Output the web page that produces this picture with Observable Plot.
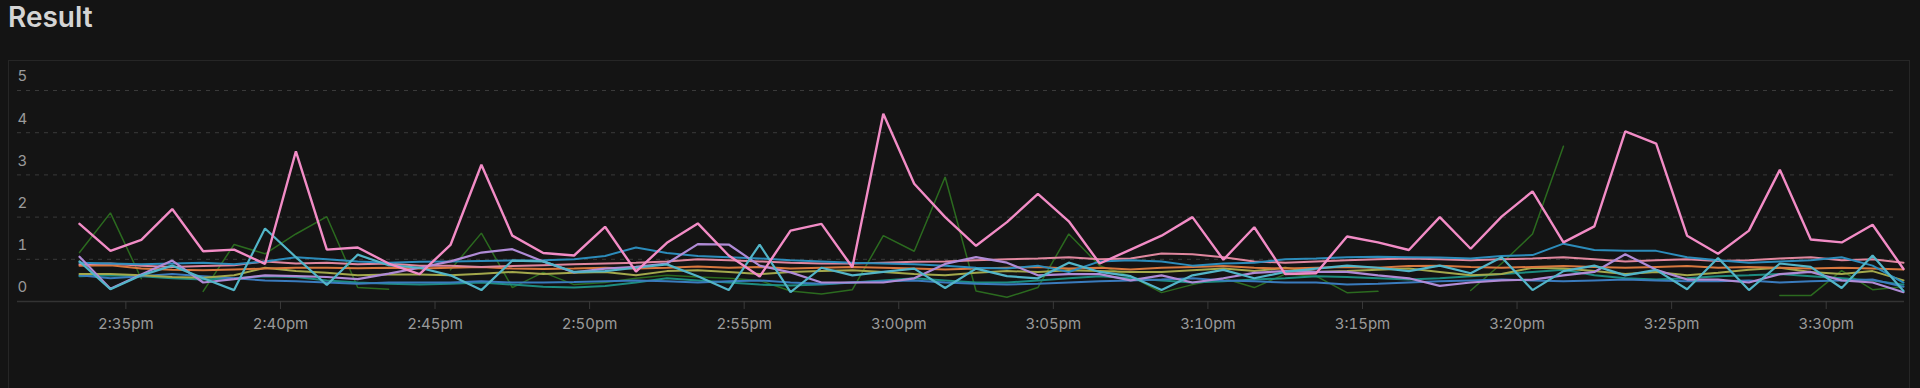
<!DOCTYPE html>
<html>
<head>
<meta charset="utf-8">
<script src="https://cdn.jsdelivr.net/npm/d3@7"></script>
<script src="https://cdn.jsdelivr.net/npm/@observablehq/plot@0.6"></script>
<style>
  html, body { margin: 0; padding: 0; background: #141414; width: 1920px; height: 388px; overflow: hidden; }
  #title { position: absolute; left: 8px; top: 0px; font-family: Inter, "Noto Sans", sans-serif; font-weight: 600; font-size: 28px; line-height: 34px; color: #d4d4d4; }
  #panel { position: absolute; left: 8px; top: 60px; width: 1900px; height: 340px; border: 1px solid #262626; background: #141414; }
  #chart { position: absolute; left: 0; top: 0; }
</style>
</head>
<body>
<div id="title">Result</div>
<div id="panel"><div id="chart"></div></div>
<script>
// ---- data (one value per minute, starting 2:33:30pm) ----
const startTime = Date.UTC(2024, 0, 1, 14, 33, 30);
const stepMinutes = 1;

const pink = [1.84,1.20,1.46,2.19,1.19,1.23,0.89,3.56,1.23,1.28,
  0.90,0.65,1.34,3.24,1.56,1.15,1.09,1.77,0.71,1.39,
  1.85,1.09,0.59,1.68,1.84,0.81,4.45,2.79,2.00,1.32,
  1.88,2.55,1.90,0.90,1.23,1.56,2.00,0.99,1.76,0.65,
  0.67,1.54,1.40,1.22,2.00,1.25,2.01,2.61,1.40,1.78,
  4.03,3.74,1.56,1.13,1.68,3.12,1.47,1.40,1.82,0.77];

const green = [1.16,2.10,0.54,null,0.24,1.35,1.13,1.60,2.01,0.33,
  0.29,null,0.75,1.62,0.33,0.69,0.40,0.45,0.55,0.62,
  0.58,0.55,0.50,0.25,0.18,0.28,1.56,1.19,2.95,0.25,
  0.10,0.33,1.60,0.85,0.60,0.21,0.40,0.55,0.33,0.65,
  0.60,0.21,0.24,null,null,0.26,0.90,1.60,3.68,null,
  null,null,null,null,null,0.14,0.14,0.73,0.28,0.35];

const cyan = [0.95,0.29,0.62,0.85,0.55,0.27,1.73,1.05,0.39,1.11,
  0.86,0.80,0.62,0.27,0.97,0.95,0.70,0.72,0.80,0.88,
  0.60,0.27,1.35,0.22,0.80,0.62,0.70,0.78,0.32,0.78,
  0.60,0.55,0.92,0.70,0.60,0.27,0.62,0.75,0.55,0.70,
  0.78,0.85,0.80,0.72,0.85,0.67,1.05,0.27,0.72,0.85,
  0.62,0.75,0.29,1.03,0.27,0.90,0.82,0.32,1.09,0.25];

const lavender = [1.06,0.30,0.64,0.97,0.45,0.53,0.62,0.60,0.58,0.53,
  0.66,0.80,0.95,1.16,1.24,0.95,0.69,0.78,0.82,0.90,
  1.36,1.35,0.85,0.69,0.45,0.45,0.45,0.55,0.89,1.05,
  0.92,0.62,0.65,0.65,0.50,0.62,0.45,0.55,0.68,0.72,
  0.70,0.70,0.62,0.55,0.37,0.45,0.50,0.52,0.62,0.70,
  1.12,0.75,0.52,0.52,0.45,0.65,0.70,0.50,0.45,0.22];

const blue = [0.92,0.90,0.88,0.90,0.92,0.88,0.95,1.05,1.00,0.95,
  0.92,0.94,0.95,0.96,0.97,0.98,1.00,1.08,1.28,1.15,
  1.08,1.05,1.02,0.98,0.95,0.92,0.90,0.88,0.85,0.80,
  0.78,0.85,0.70,0.95,0.98,0.95,0.85,0.90,0.92,1.00,
  1.02,1.05,1.06,1.05,1.04,1.02,1.08,1.10,1.37,1.22,
  1.20,1.20,1.05,0.98,0.92,0.95,0.98,1.05,0.85,0.45];

const orange = [0.85,0.86,0.78,0.75,0.74,0.76,0.78,0.80,0.80,0.79,
  0.80,0.78,0.80,0.82,0.78,0.77,0.78,0.80,0.78,0.80,
  0.83,0.80,0.82,0.78,0.80,0.82,0.80,0.78,0.76,0.78,
  0.80,0.82,0.78,0.80,0.76,0.80,0.82,0.84,0.80,0.78,
  0.80,0.82,0.80,0.84,0.85,0.82,0.80,0.82,0.84,0.82,
  0.80,0.82,0.84,0.80,0.82,0.80,0.78,0.80,0.78,0.76];

const olive = [0.65,0.65,0.62,0.58,0.56,0.62,0.80,0.72,0.68,0.62,
  0.64,0.64,0.62,0.66,0.70,0.65,0.68,0.70,0.62,0.72,
  0.74,0.70,0.65,0.70,0.72,0.74,0.70,0.65,0.62,0.68,
  0.72,0.70,0.74,0.72,0.70,0.70,0.74,0.78,0.72,0.80,
  0.70,0.72,0.75,0.78,0.70,0.62,0.65,0.80,0.78,0.72,
  0.65,0.70,0.62,0.68,0.75,0.80,0.70,0.65,0.72,0.50];

const salmon = [0.88,0.90,0.85,0.82,0.84,0.86,0.95,0.90,0.92,0.88,
  0.90,0.85,0.85,0.82,0.84,0.86,0.88,0.90,0.92,0.95,
  1.00,0.98,0.95,0.92,0.90,0.90,0.92,0.94,0.95,0.98,
  1.00,1.02,1.05,1.00,1.02,1.14,1.12,1.05,0.95,0.92,
  0.95,0.98,1.00,1.02,1.00,0.98,1.00,1.02,1.05,1.00,
  0.95,0.98,1.00,0.96,0.98,1.02,1.05,0.98,1.00,0.92];

const lowBlue = [0.62,0.55,0.60,0.65,0.60,0.55,0.50,0.48,0.45,0.42,
  0.45,0.45,0.45,0.48,0.45,0.45,0.46,0.48,0.50,0.48,
  0.45,0.48,0.50,0.45,0.42,0.45,0.48,0.50,0.45,0.42,
  0.40,0.42,0.45,0.48,0.50,0.52,0.55,0.50,0.48,0.45,
  0.45,0.40,0.42,0.45,0.48,0.50,0.52,0.50,0.48,0.50,
  0.52,0.50,0.48,0.48,0.50,0.45,0.48,0.50,0.52,0.35];

const teal = [0.60,0.62,0.60,0.55,0.52,0.55,0.60,0.58,0.50,0.45,
  0.42,0.40,0.42,0.45,0.40,0.35,0.33,0.37,0.45,0.55,
  0.50,0.45,0.40,0.38,0.40,0.45,0.50,0.55,0.50,0.45,
  0.45,0.50,0.55,0.60,0.55,0.50,0.45,0.48,0.52,0.55,
  0.60,0.58,0.55,0.52,0.55,0.60,0.65,0.70,0.75,0.62,
  0.55,0.52,0.55,0.60,0.62,0.65,0.60,0.55,0.50,0.40];

const seriesNames  = ["green","teal","lowBlue","olive","orange","salmon","blue","lavender","cyan","pink"];
const seriesValues = [green, teal, lowBlue, olive, orange, salmon, blue, lavender, cyan, pink];
const seriesColors = ["#2b6a1f","#1d8c80","#3a7bbd","#a3a84c","#d8783f","#e0879f","#2c8cbb","#b08bd6","#52b5c8","#f28cc6"];
const seriesWidths = [1.5, 2, 2, 2, 2, 2, 2, 2.2, 2.2, 2.4];

const yTicks = [0, 1, 2, 3, 4, 5];
const gridTicks = [1, 2, 3, 4, 5];

// ---- build ----
const times = pink.map((_, i) => new Date(startTime + i * stepMinutes * 60000));
const fmt = d3.utcFormat("%-I:%M%p");

const lineMarks = seriesValues.map((vals, k) =>
  Plot.lineY(vals.map((v, i) => ({t: times[i], v})), {
    x: "t", y: "v",
    stroke: seriesColors[k],
    strokeWidth: seriesWidths[k],
    strokeLinejoin: "miter",
    curve: "linear"
  })
);

const chart = Plot.plot({
  width: 1900,
  height: 320,
  marginLeft: 70,
  marginRight: 6,
  marginTop: 29,
  marginBottom: 80,
  style: { background: "transparent", fontFamily: "Inter, 'Noto Sans', sans-serif", color: "#9a9a9a" },
  x: { type: "utc", domain: [times[0], times[times.length - 1]] },
  y: { domain: [0, 5] },
  marks: [
    Plot.ruleY(gridTicks, { stroke: "#3a3a3a", strokeDasharray: "4,5", strokeWidth: 1, insetLeft: -62, insetRight: 6 }),
    Plot.ruleY([0], { stroke: "#333333", strokeWidth: 1.5, insetLeft: -62, insetRight: -1 }),
    Plot.axisY({ ticks: yTicks, tickFormat: d => String(d), tickSize: 0, tickPadding: 0, textAnchor: "start", dx: -62, dy: -14, fontSize: 15, fill: "#9a9a9a", label: null }),
    Plot.axisX({ ticks: d3.utcMinute.every(5), tickFormat: d => fmt(d).toLowerCase(), tickSize: 8, tickPadding: 9, fontSize: 15, fill: "#9a9a9a", stroke: "#3a3a3a", label: null }),
    ...lineMarks
  ]
});
document.getElementById("chart").appendChild(chart);
</script>
</body>
</html>
